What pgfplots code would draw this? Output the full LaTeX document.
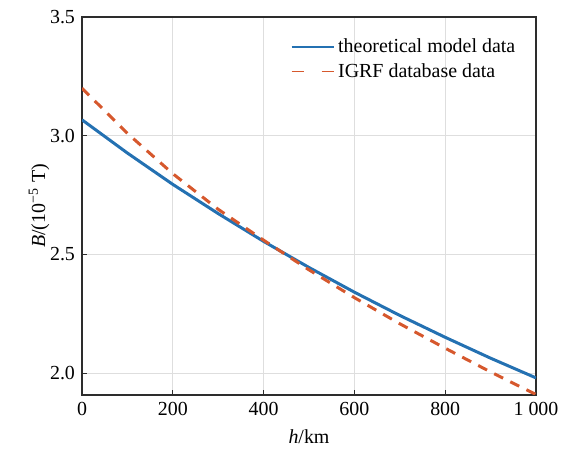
\documentclass[border=0pt]{standalone}
\usepackage{fontspec}
\setmainfont{Liberation Serif}
\usepackage{pgfplots}
\pgfplotsset{compat=1.18}
\definecolor{ModelBlue}{RGB}{36,113,178}
\definecolor{IgrfRed}{RGB}{214,88,45}
\definecolor{AxisDark}{RGB}{45,45,45}
\definecolor{GridGray}{RGB}{222,222,222}
\begin{document}
\fontsize{10}{12}\selectfont
\begin{tikzpicture}
\begin{axis}[
  name=main,
  width=227bp, height=189bp,
  scale only axis,
  xmin=0, xmax=1000,
  ymin=1.908, ymax=3.5,
  xtick={0,200,400,600,800,1000},
  ytick={2.0,2.5,3.0,3.5},
  /pgf/number format/assume math mode=true,
  x tick label style={/pgf/number format/1000 sep={\ }},
  y tick label style={/pgf/number format/.cd,fixed,fixed zerofill,precision=1},
  tick label style={font=\fontsize{10}{12}\selectfont},
  xtick pos=bottom, ytick pos=left,
  tick align=inside,
  major tick length=2.5bp,
  every tick/.style={AxisDark, line width=0.6pt},
  axis line style={AxisDark, line width=0.8pt},
  grid=major,
  major grid style={GridGray, line width=0.4pt},
  xlabel={\textit{h}/km},
  ylabel={\textit{B}/(10\textsuperscript{−5} T)},
  label style={font=\fontsize{10}{12}\selectfont},
  xlabel style={yshift=-0.5bp},
  ylabel style={yshift=-6.5bp},
  legend style={draw=none, fill=none, at={(0.977,0.965)}, anchor=north east,
    font=\fontsize{10}{12}\selectfont, row sep=0pt},
  legend cell align=left,
  legend image code/.code={\draw[#1] (0cm,0cm) -- (21bp,0cm);},
]
\addplot[ModelBlue, line width=1.5bp, forget plot] coordinates {
  (0,3.067) (100,2.927) (200,2.795) (300,2.672) (400,2.555) (500,2.445)
  (600,2.341) (700,2.243) (800,2.151) (900,2.063) (1000,1.980)
};
\addplot[IgrfRed, line width=1.5bp, dash pattern=on 5bp off 4bp, forget plot] coordinates {
  (0,3.200) (100,3.010) (200,2.840) (300,2.690) (400,2.560) (500,2.435)
  (600,2.318) (700,2.208) (800,2.105) (900,2.005) (1000,1.910)
};
\addlegendimage{ModelBlue, line width=0.6pt}
\addlegendimage{IgrfRed, line width=0.6pt, dash pattern=on 6bp off 9bp}
\legend{theoretical model data, IGRF database data}
\end{axis}
% margins as in the reference picture
\path ([xshift=-41bp]main.south west) ([xshift=21.5bp]main.south east)
      ([yshift=8.5bp]main.north west) ([yshift=-26bp]main.south west);
\end{tikzpicture}
\end{document}
